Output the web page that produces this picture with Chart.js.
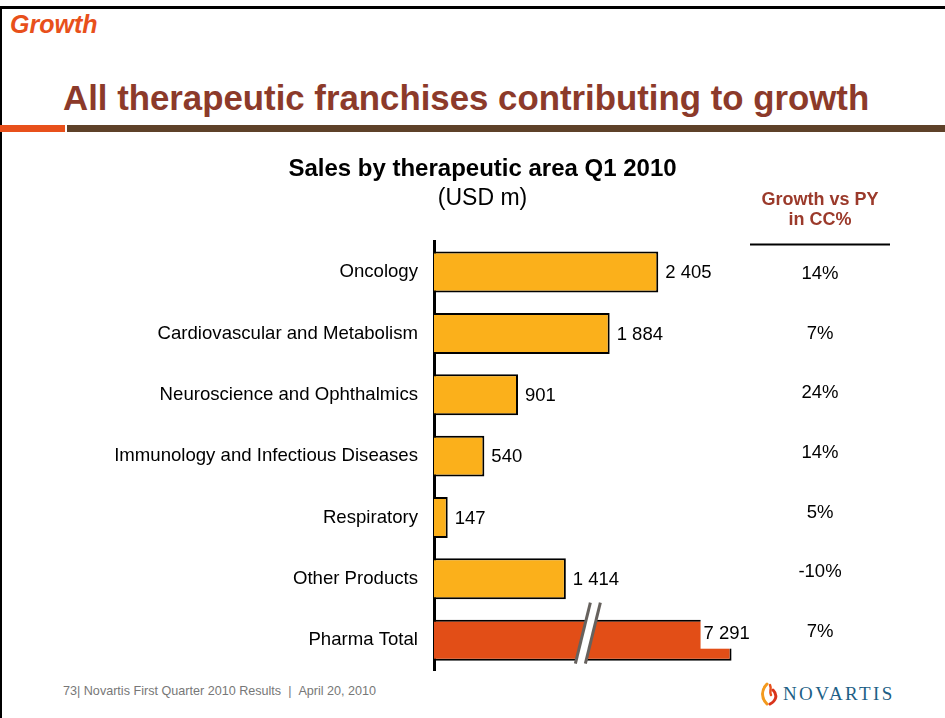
<!DOCTYPE html>
<html>
<head>
<meta charset="utf-8">
<script src="https://cdn.jsdelivr.net/npm/chart.js@4/dist/chart.umd.min.js"></script>
<style>
	html, body { margin: 0; padding: 0; background: #fff; }
	#slide { position: relative; width: 945px; height: 718px; overflow: hidden; font-family: "Liberation Sans", Arial, sans-serif; }
	.topline { position: absolute; left: 0; top: 6px; width: 945px; height: 3px; background: #000; }
	.leftline { position: absolute; left: 0; top: 6px; width: 2px; height: 712px; background: #000; }
	.section { position: absolute; left: 10px; top: 12px; font-size: 25px; line-height: 25px; font-weight: bold; font-style: italic; color: #e8501b; }
	h1 { position: absolute; left: 63px; top: 80px; margin: 0; font-size: 34.8px; line-height: 35px; font-weight: bold; color: #8c3a2a; white-space: nowrap; }
	.rule-accent { position: absolute; left: 0; top: 125px; width: 65px; height: 7px; background: #e8501b; }
	.rule-main { position: absolute; left: 67px; top: 125px; width: 878px; height: 7px; background: #5e4129; }
	.chartbox { position: absolute; left: 20px; top: 140px; width: 925px; height: 558px; }
	.footer { position: absolute; left: 63px; top: 685px; font-size: 12.6px; line-height: 13px; color: #777; white-space: nowrap; }
	.logo { position: absolute; left: 760px; top: 682px; height: 24px; display: flex; align-items: center; }
	.logo span { font-family: "Liberation Serif", "DejaVu Serif", serif; font-size: 19px; letter-spacing: 2.4px; color: #1d5f86; margin-left: 3px; }
</style>
</head>
<body>
<div id="slide">
	<div class="topline"></div>
	<div class="leftline"></div>
	<div class="section">Growth</div>
	<h1>All therapeutic franchises contributing to growth</h1>
	<div class="rule-accent"></div>
	<div class="rule-main"></div>
	<div class="footer">73| Novartis First Quarter 2010 Results &nbsp;| &nbsp;April 20, 2010</div>
	<div class="logo">
		<svg width="20" height="24" viewBox="0 0 20 24">
			<path d="M7 2 C1 8, 1 16, 7 22" stroke="#f39a1e" stroke-width="3" fill="none" stroke-linecap="round"/>
			<path d="M10 3 C12 7, 9 10, 11 13" stroke="#e8501b" stroke-width="2.5" fill="none" stroke-linecap="round"/>
			<path d="M13 8 C18 13, 16 19, 10 22" stroke="#d9341c" stroke-width="3" fill="none" stroke-linecap="round"/>
		</svg>
		<span>NOVARTIS</span>
	</div>
	<div class="chartbox"><canvas id="salesChart"></canvas></div>
</div>

<script>
// Q1 2010 sales by therapeutic area, USD m
const categories = [
	"Oncology",
	"Cardiovascular and Metabolism",
	"Neuroscience and Ophthalmics",
	"Immunology and Infectious Diseases",
	"Respiratory",
	"Other Products",
	"Pharma Total",
];
const sales = [2405, 1884, 901, 540, 147, 1414, 7291];
const growthVsPY = ["14%", "7%", "24%", "14%", "5%", "-10%", "7%"];

// the total bar is cut: values between these two are not drawn
const axisBreak = { from: 1650, to: 5750 };
const totalIndex = sales.length - 1;

const plotted = sales.map((v, i) =>
	i === totalIndex ? v - (axisBreak.to - axisBreak.from) : v
);

function formatUSD(v) {
	return String(v).replace(/\B(?=(\d{3})+(?!\d))/g, " ");
}

const FONT = "'Liberation Sans', Arial, sans-serif";
Chart.defaults.font.family = FONT;
Chart.defaults.color = "#000";

// value labels, axis break and the growth column
const slideExtras = {
	id: "slideExtras",
	afterDatasetsDraw(chart) {
		const ctx = chart.ctx;
		const area = chart.chartArea;
		const xScale = chart.scales.x;
		const bars = chart.getDatasetMeta(0).data;

		ctx.save();

		// break mark across the total bar
		const last = bars[totalIndex];
		const bx = xScale.getPixelForValue(axisBreak.from);
		const top = last.y - last.height / 2 - 17;
		const bottom = last.y + last.height / 2 + 3;
		const lean = 15;
		ctx.fillStyle = "#fff";
		ctx.beginPath();
		ctx.moveTo(bx - 5 + lean / 2, top);
		ctx.lineTo(bx + 5 + lean / 2, top);
		ctx.lineTo(bx + 5 - lean / 2, bottom);
		ctx.lineTo(bx - 5 - lean / 2, bottom);
		ctx.closePath();
		ctx.fill();
		ctx.strokeStyle = "#67625e";
		ctx.lineWidth = 3;
		[-5, 5].forEach((d) => {
			ctx.beginPath();
			ctx.moveTo(bx + d + lean / 2, top);
			ctx.lineTo(bx + d - lean / 2, bottom);
			ctx.stroke();
		});

		// bar value labels
		ctx.font = "18.5px " + FONT;
		ctx.textBaseline = "middle";
		ctx.textAlign = "left";
		bars.forEach((bar, i) => {
			const text = formatUSD(sales[i]);
			if (i === totalIndex) {
				const tx = bar.x - 28;
				const ty = bar.y - bar.height / 2;
				const w = ctx.measureText(text).width;
				ctx.fillStyle = "#fff";
				ctx.fillRect(tx - 3, ty - 1, w + 8, 30);
				ctx.fillStyle = "#000";
				ctx.fillText(text, tx, ty + 14);
			} else {
				ctx.fillStyle = "#000";
				ctx.fillText(text, bar.x + 7, bar.y + 1);
			}
		});

		// growth column header
		const colX = area.right - 125;
		ctx.textAlign = "center";
		ctx.fillStyle = "#9b3a2b";
		ctx.font = "bold 18px " + FONT;
		ctx.fillText("Growth vs PY", colX, area.top - 41);
		ctx.fillText("in CC%", colX, area.top - 21);
		ctx.strokeStyle = "#000";
		ctx.lineWidth = 2;
		ctx.beginPath();
		ctx.moveTo(colX - 70, area.top + 3);
		ctx.lineTo(colX + 70, area.top + 3);
		ctx.stroke();

		// growth values, a slightly tighter table than the bars
		const step = (bars[1].y - bars[0].y) * 0.972;
		ctx.fillStyle = "#000";
		ctx.font = "18.5px " + FONT;
		growthVsPY.forEach((g, i) => {
			ctx.fillText(g, colX, bars[0].y + 2 + i * step);
		});

		ctx.restore();
	},
};

new Chart(document.getElementById("salesChart"), {
	type: "bar",
	data: {
		labels: categories,
		datasets: [
			{
				data: plotted,
				backgroundColor: plotted.map((v, i) => (i === totalIndex ? "#e24e17" : "#fbb01b")),
				borderColor: "#000",
				borderWidth: 2,
				borderSkipped: "start",
				categoryPercentage: 1,
				barPercentage: 0.667,
			},
		],
	},
	options: {
		indexAxis: "y",
		responsive: true,
		maintainAspectRatio: false,
		animation: false,
		layout: { padding: 0 },
		plugins: {
			legend: { display: false },
			tooltip: { enabled: false },
			title: {
				display: true,
				text: "Sales by therapeutic area Q1 2010",
				color: "#000",
				font: { size: 24, weight: "bold" },
				padding: { top: 15, bottom: 0 },
			},
			subtitle: {
				display: true,
				text: "(USD m)",
				color: "#000",
				font: { size: 23, weight: "normal" },
				padding: { top: 1, bottom: 29 },
			},
		},
		scales: {
			x: { display: false, min: 0, max: 5480 },
			y: {
				grid: { display: false, drawTicks: false },
				border: { display: true, color: "#000", width: 3 },
				ticks: { padding: 16, font: { size: 18.6 }, color: "#000" },
				afterFit(scale) {
					scale.width = 414;
				},
			},
		},
	},
	plugins: [slideExtras],
});
</script>
</body>
</html>
